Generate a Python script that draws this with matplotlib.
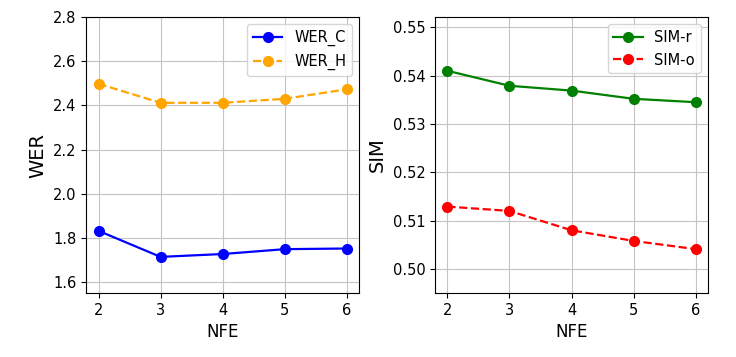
import numpy as np
from matplotlib import pyplot as plt

# NFE steps and metrics
nfe = [2, 3, 4, 5, 6]
wer_c = [1.832, 1.714, 1.727, 1.749, 1.752]
wer_h = [2.498, 2.412, 2.412, 2.430, 2.473]
sim_r = [0.5410, 0.5379, 0.5369, 0.5352, 0.5345]
sim_o = [0.5129, 0.5120, 0.5080, 0.5058, 0.5041]

fig = plt.figure(figsize=(7.36, 3.57), dpi=100)

# left panel: WER
ax1 = fig.add_axes([0.117, 0.179, 0.371, 0.773])
ax1.plot(nfe, wer_c, '-o', color='blue', label='WER_C', ms=7, lw=1.6)
ax1.plot(nfe, wer_h, '--o', color='orange', label='WER_H', ms=7, lw=1.6)
ax1.set_ylim(1.55, 2.8)
ax1.set_xticks(nfe)
ax1.set_xlabel('NFE', fontsize=12)
ax1.set_ylabel('WER', fontsize=14)
ax1.tick_params(labelsize=10.5)
ax1.grid(True, color='#c4c4c4')
ax1.legend(loc='upper right', fontsize=10.5)

# right panel: SIM
ax2 = fig.add_axes([0.591, 0.179, 0.371, 0.773])
ax2.plot(nfe, sim_r, '-o', color='green', label='SIM-r', ms=7, lw=1.6)
ax2.plot(nfe, sim_o, '--o', color='red', label='SIM-o', ms=7, lw=1.6)
ax2.set_ylim(0.495, 0.5521)
ax2.set_xticks(nfe)
ax2.set_yticks([0.50, 0.51, 0.52, 0.53, 0.54, 0.55])
ax2.set_xlabel('NFE', fontsize=12)
ax2.set_ylabel('SIM', fontsize=14)
ax2.tick_params(labelsize=10.5)
ax2.grid(True, color='#c4c4c4')
ax2.legend(loc='upper right', fontsize=10.5)

plt.savefig('out.png', dpi=100)
